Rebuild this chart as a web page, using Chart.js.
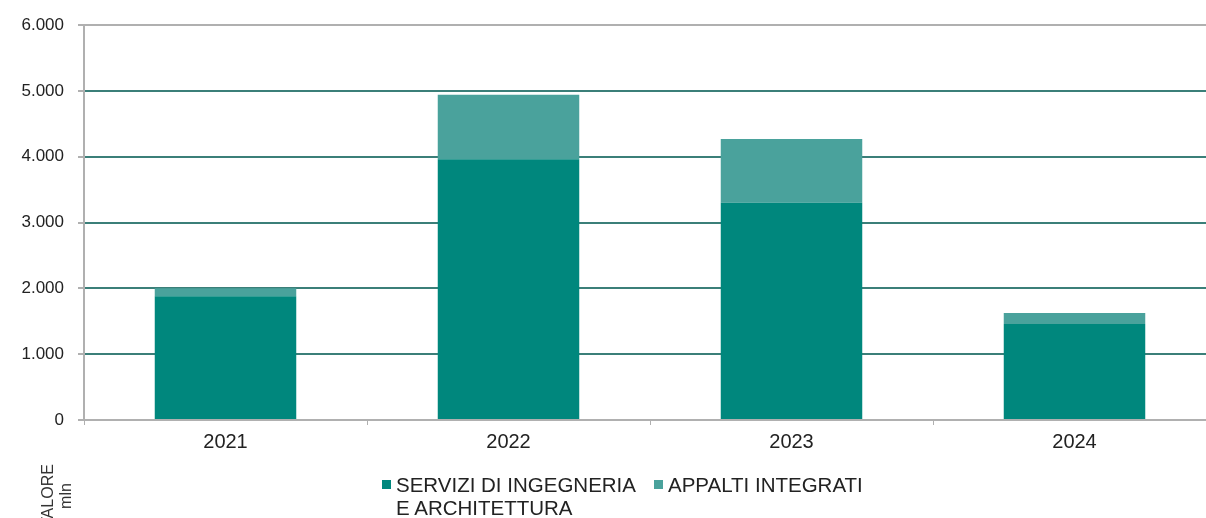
<!DOCTYPE html>
<html>
<head>
<meta charset="utf-8">
<script src="https://cdn.jsdelivr.net/npm/chart.js@4.4.1/dist/chart.umd.min.js"></script>
<style>
    html, body { margin: 0; padding: 0; background: #fff; overflow: hidden; }
    #wrap { position: relative; width: 1216px; height: 518px; }
    #legend { position: absolute; left: 382px; top: 473px; font-family: "Liberation Sans", Arial, sans-serif; font-size: 20.5px; color: #222; line-height: 23px; }
    .item { position: absolute; top: 0; white-space: nowrap; }
    .box { position: absolute; left: 0; top: 7px; width: 9px; height: 9px; }
    .txt { position: absolute; left: 14px; top: 0; }
    #unit { position: absolute; left: 22px; top: 478px; width: 70px; transform: rotate(-90deg); transform-origin: center; text-align: center; font-family: "Liberation Sans", Arial, sans-serif; font-size: 16px; line-height: 18px; color: #333; }
</style>
</head>
<body>
<div id="wrap">
    <canvas id="chart-canvas" width="1216" height="518"></canvas>
    <div id="legend">
        <div class="item" style="left:0"><span class="box" style="background:#00877d"></span><span class="txt">SERVIZI DI INGEGNERIA<br>E ARCHITETTURA</span></div>
        <div class="item" style="left:272px"><span class="box" style="background:#4aa29c"></span><span class="txt">APPALTI INTEGRATI</span></div>
    </div>
    <div id="unit">VALORE<br>mln</div>
</div>
<script>
// Values in millions
const years = ["2021", "2022", "2023", "2024"];
const servizi = [1880, 3960, 3300, 1460];
const appalti = [120, 980, 970, 165];
const yTicks = [0, 1000, 2000, 3000, 4000, 5000, 6000];

const darkTeal = "#00877d";
const lightTeal = "#4aa29c";
const gridTeal = "#3b7f79";
const axisGray = "#b0b0b0";

function fmt(v) {
    return v.toLocaleString("it-IT").replace(",", ".");
}

const ctx = document.getElementById("chart-canvas").getContext("2d");

new Chart(ctx, {
    type: "bar",
    data: {
        labels: years,
        datasets: [
            {
                label: "SERVIZI DI INGEGNERIA E ARCHITETTURA",
                data: servizi,
                backgroundColor: darkTeal,
                borderWidth: 0
            },
            {
                label: "APPALTI INTEGRATI",
                data: appalti,
                backgroundColor: lightTeal,
                borderWidth: 0
            }
        ]
    },
    options: {
        responsive: false,
        animation: false,
        layout: { padding: { top: 25, right: 0, bottom: 0, left: 0 } },
        categoryPercentage: 1,
        barPercentage: 0.5,
        scales: {
            x: {
                stacked: true,
                afterFit: function(scale) { scale.height = 98; },
                grid: {
                    drawOnChartArea: false,
                    drawTicks: true,
                    tickLength: 5,
                    tickColor: axisGray,
                    offset: true
                },
                border: { color: axisGray, width: 2 },
                ticks: {
                    padding: 5,
                    color: "#222",
                    font: { family: "'Liberation Sans', Arial, sans-serif", size: 20 }
                }
            },
            y: {
                stacked: true,
                min: 0,
                max: 6000,
                afterFit: function(scale) { scale.width = 84; },
                afterBuildTicks: function(scale) {
                    scale.ticks = yTicks.map(v => ({ value: v }));
                },
                grid: {
                    color: function(c) {
                        return c.tick && c.tick.value === 6000 ? axisGray : gridTeal;
                    },
                    lineWidth: 2,
                    drawTicks: true,
                    tickLength: 6,
                    tickColor: axisGray
                },
                border: { color: axisGray, width: 2 },
                ticks: {
                    padding: 14,
                    color: "#222",
                    font: { family: "'Liberation Sans', Arial, sans-serif", size: 17 },
                    callback: function(value) { return fmt(value); }
                }
            }
        },
        plugins: {
            legend: { display: false },
            tooltip: { enabled: false }
        }
    }
});
</script>
</body>
</html>
